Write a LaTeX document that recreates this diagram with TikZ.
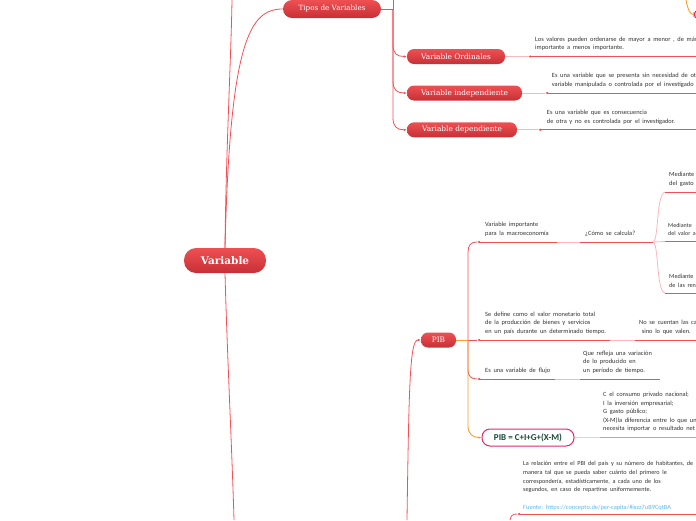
\documentclass[tikz,border=0pt]{standalone}
\usepackage{fontspec}
\setmainfont{Carlito}
\newfontfamily\descfont{Carlito}[WordSpace=1.85]
\newfontfamily\nodefont{DejaVu Serif}
\usetikzlibrary{arrows.meta}
\pgfdeclarelayer{background}
\pgfsetlayers{background,main}
\definecolor{nodetop}{RGB}{238,80,82}
\definecolor{nodebot}{RGB}{198,48,54}
\definecolor{linered}{RGB}{245,78,84}
\definecolor{linepink}{RGB}{250,182,186}
\definecolor{lineorange}{RGB}{247,160,40}
\definecolor{lightorange}{RGB}{252,208,155}
\definecolor{txtgray}{RGB}{50,50,50}
\definecolor{linkblue}{RGB}{90,185,240}
\definecolor{formgreen}{RGB}{25,75,55}
\definecolor{formborder}{RGB}{228,40,100}
\tikzset{
 topic/.style={rectangle, rounded corners=7pt, top color=nodetop, bottom color=nodebot, draw=none, text=white, font=\nodefont\fontsize{7.4}{8}\selectfont, minimum height=15pt, inner sep=0pt},
 desc/.style={anchor=south west, inner sep=0pt, align=left, text=txtgray, font=\descfont\fontsize{6.4}{8.5}\selectfont},
 conn/.style={draw=linered, line width=0.8pt},
 pale/.style={draw=linepink, line width=0.8pt},
 orangeconn/.style={draw=lineorange, line width=0.9pt},
 paleorange/.style={draw=lightorange, line width=0.9pt},
 tip/.style={-{Latex[length=3pt,width=2.6pt]}},
}
\begin{document}
\begin{tikzpicture}[x=1pt,y=-1pt]
\useasboundingbox (0,0) rectangle (696,520);
\clip (0,0) rectangle (696,520);

% main nodes
\node[topic, minimum width=82pt, minimum height=25pt, rounded corners=12pt, font=\nodefont\bfseries\fontsize{10.5}{12}\selectfont] (var) at (225,260.5) {Variable};
\node[topic, minimum width=98pt, minimum height=18pt, rounded corners=9pt, font=\nodefont\fontsize{7.2}{8}\selectfont] (tipos) at (332,9) {Tipos de Variables};
\node[topic, minimum width=98pt] (ord) at (456,56.5) {Variable Ordinales};
\node[topic, minimum width=115pt] (indep) at (464.5,93) {Variable independiente};
\node[topic, minimum width=110pt] (dep) at (462,129.8) {Variable dependiente};
\node[topic, minimum width=35pt] (pib) at (438.5,340) {PIB};
\node[rectangle, rounded corners=8pt, draw=formborder, line width=1pt, fill=white, minimum width=92pt, minimum height=17pt, inner sep=0pt, text=formgreen, font=\bfseries\fontsize{9}{10}\selectfont] (form) at (528,437.5) {PIB = C+I+G+(X-M)};
\node[rectangle, rounded corners=5pt, draw=formborder, line width=1pt, fill=formborder!25, minimum width=30pt, minimum height=9pt, inner sep=0pt] (partial) at (709,14.5) {};

% descriptions
\node[desc] (ordt) at (535,51) {Los valores pueden ordenarse de mayor a menor , de más\\importante a menos importante.};
\node[desc] (indt) at (551.7,87.5) {Es una variable que se presenta sin necesidad de ot\\variable manipulada o controlada por el investigado};
\node[desc] (dept) at (546.7,124.3) {Es una variable que es consecuencia\\de otra y no es controlada por el investigador.};
\node[desc] (impt) at (485,236.5) {Variable importante\\para la macroeconomía};
\node[desc] (calct) at (585,236.5) {¿Cómo se calcula?};
\node[desc] (m1t) at (669,186.5) {Mediante\\del gasto};
\node[desc, font=\descfont\fontsize{6.0}{8.5}\selectfont] (m2t) at (668,236) {Mediante\\del valor a};
\node[desc, font=\descfont\fontsize{6.2}{8.5}\selectfont] (m3t) at (669,287.5) {Mediante\\de las ren};
\node[desc] (deft) at (485,334.5) {Se define como el valor monetario total\\de la producción de bienes y servicios\\en un país durante un determinado tiempo.};
\node[desc] (cant) at (639,334.5) {No se cuentan las ca\\\ sino lo que valen.};
\node[desc] (flut) at (485,373.5) {Es una variable de flujo};
\node[desc] (reft) at (583,373.5) {Que refleja una variación\\de lo producido en\\un período de tiempo.};
\node[desc] (formt) at (603,432) {C el consumo privado nacional;\\I la inversión empresarial;\\G gasto público;\\(X-M)la diferencia entre lo que un\\necesita importar o resultado net};
\node[desc, font=\descfont\fontsize{6.2}{8.6}\selectfont] (relt) at (523,493) {La relación entre el PBI del país y su número de habitantes, de\\manera tal que se pueda saber cuánto del primero le\\correspondería, estadísticamente, a cada uno de los\\segundos, en caso de repartirse uniformemente.};
\node[desc, text=linkblue] (fuent) at (523,511) {Fuente: https://concepto.de/per-capita/\#ixzz7uB9CqtBA};

% free ends
\coordinate (topA) at (232,0);
\coordinate (botB) at (234,520);
\coordinate (botP) at (407,520);
\coordinate (th) at (393,9);
\coordinate (thtop) at (393,0);
\coordinate (ph) at (468,340);
\coordinate (ch) at (653,242);
\coordinate (botF) at (510,520);
\coordinate (topO) at (686,0);
\coordinate (ordA) at (528,56.5);
\coordinate (indA) at (545,93);
\coordinate (depA) at (538,129.8);
\coordinate (impA) at (477,242);
\coordinate (defA) at (477,340);
\coordinate (fluA) at (477,379);
\coordinate (fueA) at (517,514);

\begin{pgfonlayer}{background}
% from Variable
\draw[conn] (var.north) .. controls (226,150) and (231,60) .. (topA);
\draw[conn] (var.north) .. controls (230,40) and (250,9) .. (tipos.west);
\draw[conn] (var.south) .. controls (227,350) and (232,450) .. (botB);
\draw[conn,tip] (botP) .. controls (409,380) and (410,340) .. (pib.west);

% Tipos hub
\draw[conn] (tipos.east) -- (th) -- (thtop);
\draw[conn,tip] (th) -- (393,44.5) .. controls (393,53.5) and (397,56.5) .. (ord.west);
\draw[conn,tip] (th) -- (393,81) .. controls (393,90) and (397,93) .. (indep.west);
\draw[conn,tip] (th) -- (393,117.8) .. controls (393,126.8) and (397,129.8) .. (dep.west);

% descriptions of Tipos children
\draw[pale] (ord.east) -- (ordA);
\draw[conn,tip] (696,56.5) -- (ordA);
\draw[pale] (indep.east) -- (indA);
\draw[conn,tip] (696,93) -- (indA);
\draw[pale] (dep.east) -- (depA);
\draw[conn,tip] (696,129.8) -- (depA);

% PIB hub
\draw[conn] (ph) -- (468,252) .. controls (468,245) and (471,242) .. (impA);
\draw[conn] (ph) -- (defA);
\draw[conn] (ph) -- (468,370) .. controls (468,376) and (471,379) .. (fluA);
\draw[conn,tip] (557,242) -- (impA);
\draw[pale] (557,242) -- (580,242);
\draw[conn] (580,242) -- (642,242);
\draw[conn] (642,242) -- (ch);
\draw[pale] (ch) .. controls (659,240) and (656,194) .. (665,192);
\draw[conn] (665,192) -- (696,192);
\draw[pale] (ch) -- (665,241.5);
\draw[conn] (665,241.5) -- (696,241.5);
\draw[pale] (ch) .. controls (659,244) and (656,291) .. (665,293);
\draw[conn] (665,293) -- (696,293);

\draw[conn,tip] (610,340) -- (defA);
\draw[pale] (610,340) -- (635,340);
\draw[conn] (635,340) -- (696,340);

\draw[conn,tip] (555,379) -- (fluA);
\draw[pale] (555,379) -- (580,379);
\draw[conn] (580,379) -- (660,379);

% orange formula branch
\draw[orangeconn] (pib.east) -- (ph);
\draw[orangeconn,tip] (ph) -- (468,426) .. controls (468,434) and (473,437.5) .. (form.west);
\draw[paleorange] (form.east) -- (600,437.5);
\draw[orangeconn] (600,437.5) -- (696,437.5);

% bottom link
\draw[conn] (botF) .. controls (511,516) and (512,514) .. (fueA);
\draw[conn,tip] (696,514) -- (fueA);

% top right orange
\draw[orangeconn] (topO) .. controls (688,10) and (690,14.5) .. (partial.west);
\end{pgfonlayer}
\end{tikzpicture}
\end{document}
